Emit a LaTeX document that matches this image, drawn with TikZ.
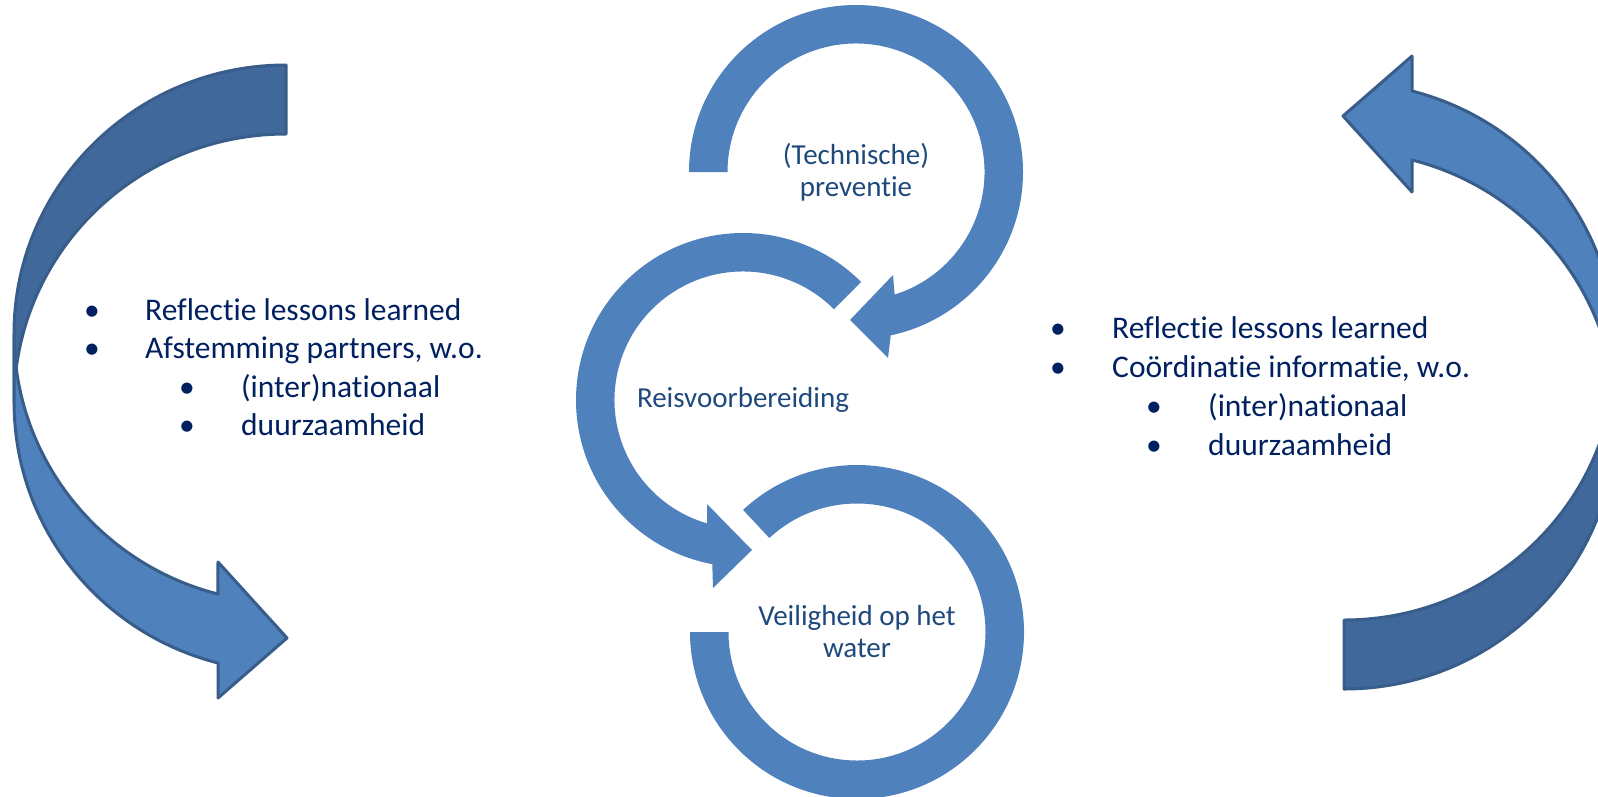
\documentclass[tikz,border=0pt]{standalone}
\usepackage{fontspec}
\setmainfont{Carlito}[RawFeature={-liga;-clig;-dlig;-calt}]
\usetikzlibrary{calc}
\definecolor{ringblue}{HTML}{4F81BD}
\definecolor{darkband}{HTML}{41689A}
\definecolor{edgeblue}{HTML}{385D8A}
\definecolor{circtext}{HTML}{1F497D}
\definecolor{listtext}{HTML}{002060}
\begin{document}
\begin{tikzpicture}[x=1pt,y=-1pt,
  ring/.style={fill=ringblue,draw=none},
  backband/.style={fill=darkband,draw=edgeblue,line width=3pt,line join=round},
  frontband/.style={fill=ringblue,draw=edgeblue,line width=3pt,line join=round},
  circlabel/.style={text=circtext,font=\fontsize{29}{32}\selectfont,align=center,inner sep=0pt},
  listline/.style={text=listtext,font=\fontsize{31.5}{38}\selectfont,anchor=base west,inner sep=0pt},
  listdot/.style={text=listtext,font=\fontsize{31.5}{38}\selectfont,anchor=base,inner sep=0pt}]
\useasboundingbox (0,0) rectangle (1598,796);

% centres of the three circular arrows
\coordinate (ct) at (856,172);
\coordinate (cm) at (743,400);
\coordinate (cb) at (857,632);

% top circular arrow
\fill[ring] ($(ct)+(-180:167)$) arc[start angle=-180,end angle=78,radius=167]
  -- (888,358) -- (850,320) -- (893,275)
  -- ($(ct)+(72.5:128.5)$) arc[start angle=72.5,end angle=-180,radius=128.5] -- cycle;
% middle circular arrow
\fill[ring] ($(cm)+(-45:167)$) arc[start angle=-45,end angle=-259.4,radius=167]
  -- (713,588) -- (752,550) -- (707,504)
  -- ($(cm)+(-253.8:128.5)$) arc[start angle=-253.8,end angle=-45,radius=128.5] -- cycle;
% bottom ring
\fill[ring] ($(cb)+(-133:167)$) arc[start angle=-133,end angle=180,radius=167]
  -- ($(cb)+(180:128.5)$) arc[start angle=180,end angle=-133,radius=128.5] -- cycle;

% left curved arrow
\filldraw[backband] (286,65) arc[start angle=-90,end angle=-180,x radius=272,y radius=268.8]
  -- (14,402.8) arc[start angle=180,end angle=270,x radius=272,y radius=268.8] -- cycle;
\filldraw[frontband] (14,333.8) arc[start angle=180,end angle=104.5,x radius=272,y radius=268.8]
  -- (218,562) -- (287,638) -- (218,698)
  -- (218,663) arc[start angle=104.5,end angle=180,x radius=272,y radius=268.8] -- cycle;

% right curved arrow (same shape turned half round)
\begin{scope}[rotate around={180:(815,377)}]
\filldraw[backband] (286,65) arc[start angle=-90,end angle=-180,x radius=272,y radius=268.8]
  -- (14,402.8) arc[start angle=180,end angle=270,x radius=272,y radius=268.8] -- cycle;
\filldraw[frontband] (14,333.8) arc[start angle=180,end angle=104.5,x radius=272,y radius=268.8]
  -- (218,562) -- (287,638) -- (218,698)
  -- (218,663) arc[start angle=104.5,end angle=180,x radius=272,y radius=268.8] -- cycle;
\end{scope}

% circle labels
\node[circlabel] (tprev) at (ct) {(Technische)\\preventie};
\node[circlabel] (treis) at (cm) {Reisvoorbereiding};
\node[circlabel] (tveil) at (cb) {Veiligheid op het\\water};

% left list
\node[listdot] (lb1) at (92,320) {•};
\node[listline] (lt1) at (145,320) {Reflectie lessons learned};
\node[listdot] (lb2) at (92,358.5) {•};
\node[listline] (lt2) at (145,358.5) {Afstemming partners, w.o.};
\node[listdot] (lb3) at (187,397) {•};
\node[listline] (lt3) at (241,397) {(inter)nationaal};
\node[listdot] (lb4) at (187,435.5) {•};
\node[listline] (lt4) at (241,435.5) {duurzaamheid};

% right list
\node[listdot] (rb1) at (1058,338) {•};
\node[listline] (rt1) at (1112,338) {Reflectie lessons learned};
\node[listdot] (rb2) at (1058,377) {•};
\node[listline] (rt2) at (1112,377) {Coördinatie informatie, w.o.};
\node[listdot] (rb3) at (1154,416) {•};
\node[listline] (rt3) at (1208,416) {(inter)nationaal};
\node[listdot] (rb4) at (1154,455) {•};
\node[listline] (rt4) at (1208,455) {duurzaamheid};
\end{tikzpicture}
\end{document}
